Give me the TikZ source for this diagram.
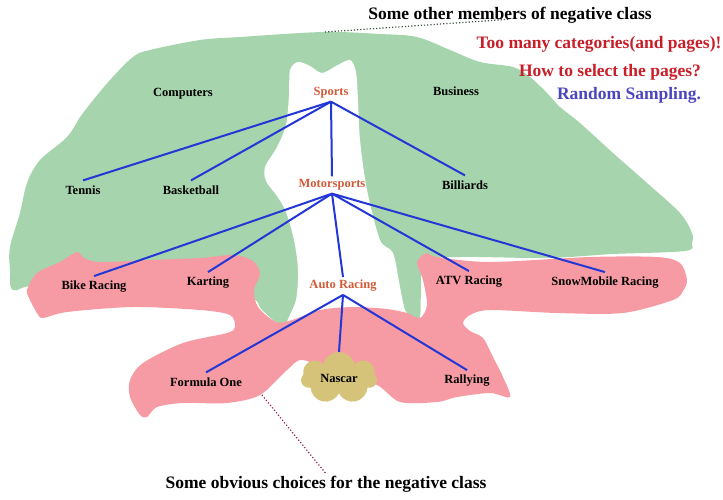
\documentclass[tikz,border=0pt]{standalone}
\usepackage{fontspec}
\setmainfont{Liberation Serif}
\usetikzlibrary{shapes.symbols}

\definecolor{blobgreen}{RGB}{166,212,172}
\definecolor{blobpink}{RGB}{246,155,163}
\definecolor{nascarfill}{RGB}{212,195,120}
\definecolor{linkblue}{RGB}{35,55,215}
\definecolor{catorange}{RGB}{210,90,55}
\definecolor{notered}{RGB}{200,30,40}
\definecolor{noteblue}{RGB}{75,70,190}
\definecolor{dotgray}{RGB}{60,80,60}
\definecolor{dotred}{RGB}{150,30,60}

\tikzset{
  leaf/.style={font=\fontsize{12.5}{14}\selectfont\bfseries, inner sep=5pt},
  cat/.style={font=\fontsize{12.5}{14}\selectfont\bfseries, text=catorange, inner sep=3pt},
  note/.style={font=\fontsize{17.5}{20}\selectfont\bfseries, inner sep=2pt},
  link/.style={draw=linkblue, line width=2pt},
}

\begin{document}
\begin{tikzpicture}[x=1pt,y=-1pt]
\useasboundingbox (0,0) rectangle (723,499);

% other categories
\fill[blobgreen] plot[smooth cycle, tension=0.55] coordinates {
  (13,290) (10,270) (10,247) (20,213) (27,183) (40,160) (67,137) (83,113)
  (110,80) (133,57) (150,50) (200,40) (240,37) (323,32) (380,34) (417,37)
  (450,50) (480,62) (513,67) (530,77) (547,93) (560,107) (580,123)
  (613,153) (647,183) (680,213) (692,233) (692,243) (685,251) (613,254)
  (547,258) (460,257) (425,262) (421,295) (419,320) (405,326) (350,330)
  (292,328) (278,324) (262,310) (245,296) (150,286) (40,285)};
% sports channel
\fill[white] plot[smooth cycle, tension=0.5] coordinates {
  (290,70) (298,62) (310,66) (322,73) (336,66) (350,60) (356,72) (358,100)
  (360,140) (367,190) (380,240) (393,253) (400,287) (405,310) (413,324)
  (395,332) (340,332) (290,330) (287,322) (296,300) (298,270) (294,240)
  (286,212) (277,196) (266,181) (265,167) (277,147) (286,125) (289,95)};
% motorsports
\fill[blobpink] plot[smooth cycle, tension=0.5] coordinates {
  (27,290) (37,273) (60,262) (77,252) (84,258) (100,262) (150,260) (200,258)
  (233,255) (253,261) (260,274) (254,290) (258,307) (276,322) (292,320)
  (320,310) (353,307) (387,309) (407,313) (420,318) (427,305) (423,280)
  (417,262) (427,253) (437,257) (490,262) (590,257) (657,257) (680,263)
  (687,280) (683,291) (673,300) (623,313) (557,313) (490,310) (470,315)
  (463,323) (470,331) (483,338) (493,357) (503,377) (510,397) (490,393)
  (457,397) (437,402) (400,402) (377,385) (340,375) (303,360) (287,370)
  (260,395) (227,403) (183,403) (157,407) (147,417) (140,415) (130,397)
  (130,380) (143,363) (183,343) (227,333) (235,327) (230,315) (200,310)
  (133,307) (67,312) (43,318) (37,313) (30,300)};

\node[cloud, cloud puffs=7, aspect=1.5, fill=nascarfill, minimum width=76pt, minimum height=52pt, inner sep=0pt] (nascar) at (339,378) {};
\node[leaf] at (nascar.center) {Nascar};

\node[leaf] (computers) at (183,94) {Computers};
\node[cat] (sports) at (331,93) {Sports};
\node[leaf] (business) at (456,91) {Business};
\node[leaf] (tennis) at (83,190) {Tennis};
\node[leaf] (basketball) at (191,190) {Basketball};
\node[cat] (motorsports) at (332,185) {Motorsports};
\node[leaf] (billiards) at (465,185) {Billiards};
\node[leaf] (bike) at (94,287) {Bike Racing};
\node[leaf] (karting) at (208,283) {Karting};
\node[cat] (auto) at (343,286) {Auto Racing};
\node[leaf] (atv) at (469,282) {ATV Racing};
\node[leaf] (snow) at (605,283) {SnowMobile Racing};
\node[leaf] (formula) at (206,382) {Formula One};
\node[leaf] (rally) at (467,381) {Rallying};

\draw[link] (sports.south) -- (tennis.north);
\draw[link] (sports.south) -- (basketball.north);
\draw[link] (sports.south) -- (motorsports.north);
\draw[link] (sports.south) -- (billiards.north);
\draw[link] (motorsports.south) -- (bike.north);
\draw[link] (motorsports.south) -- (karting.north);
\draw[link] (motorsports.south) -- (auto.north);
\draw[link] (motorsports.south) -- (atv.north);
\draw[link] (motorsports.south) -- (snow.north);
\draw[link] (auto.south) -- (formula.north);
\draw[link] (auto.south) -- (nascar.north);
\draw[link] (auto.south) -- (rally.north);

% notes
\node[note] (othermembers) at (510,15) {Some other members of negative class};
\node[note, text=notered] (toomany) at (599,44) {Too many categories(and pages)!};
\node[note, text=notered] (howto) at (610,72) {How to select the pages?};
\node[note, text=noteblue] (random) at (629,95) {Random Sampling.};
\node[note] (obvious) at (326,484) {Some obvious choices for the negative class};

\coordinate (greentop) at (325,32);
\coordinate (pinkedge) at (262,395);
\draw[dotgray, dotted, line width=1.2pt] (greentop) -- (othermembers.base);
\draw[dotred, dotted, line width=1.2pt] (pinkedge) -- (obvious.north);
\end{tikzpicture}
\end{document}
